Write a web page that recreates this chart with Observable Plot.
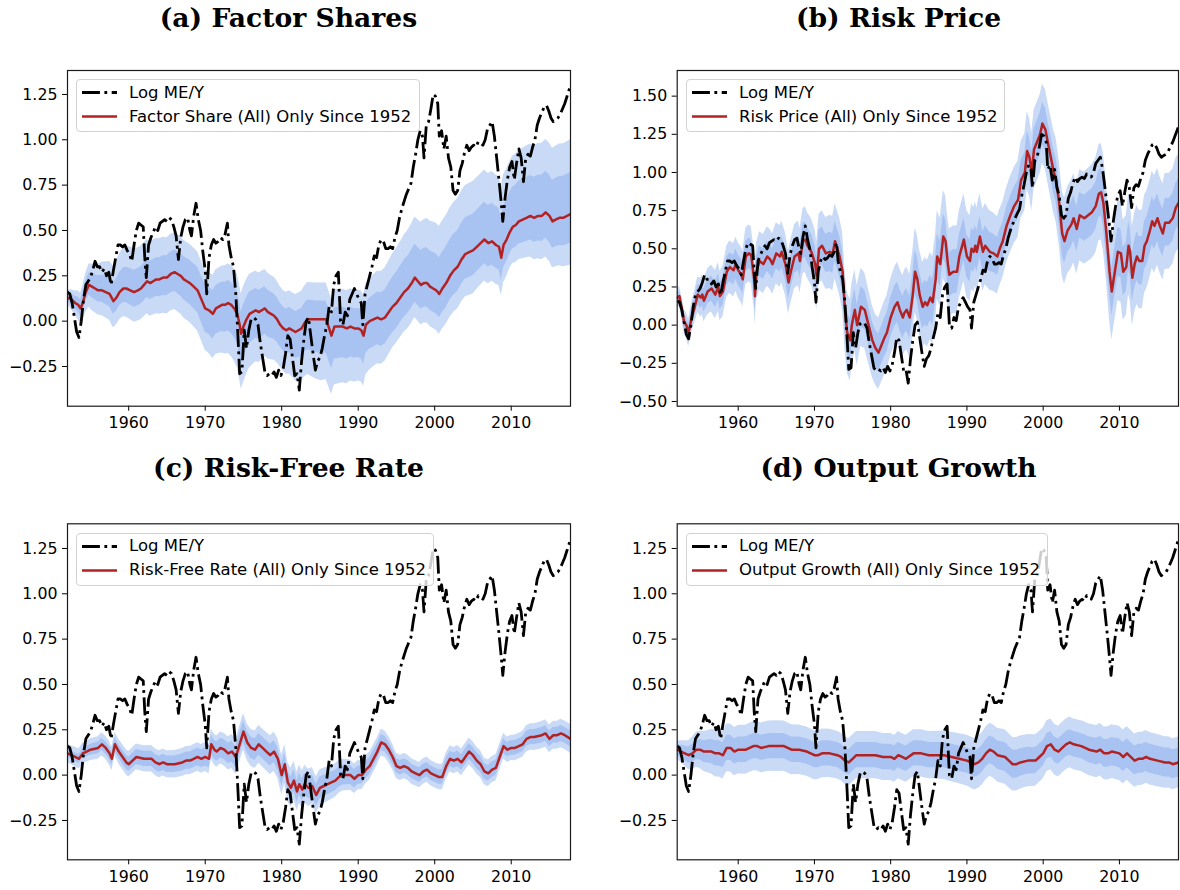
<!DOCTYPE html>
<html><head><meta charset="utf-8">
<script src="https://cdn.jsdelivr.net/npm/d3@7"></script>
<script src="https://cdn.jsdelivr.net/npm/@observablehq/plot@0.6"></script>
<style>
body{margin:0;background:#fff;}
#fig{position:relative;width:1180px;height:890px;overflow:hidden;font-family:"DejaVu Sans";background:#fff;}
.title{position:absolute;font-family:"DejaVu Serif";font-weight:bold;font-size:26.6px;white-space:nowrap;transform:translate(-50%,-50%);color:#000;}
.panel{position:absolute;}
.legend{position:absolute;background:rgba(255,255,255,0.8);border:1px solid #d2d2d2;border-radius:4px;box-sizing:border-box;height:53px;}
.legend .lab{position:absolute;left:52px;font-size:16.5px;line-height:20px;white-space:nowrap;color:#000;}
.legend svg{position:absolute;left:5px;top:0;}
</style></head>
<body><div id="fig"></div>
<script>
// ---------- data ----------
const xTicks = [1960, 1970, 1980, 1990, 2000, 2010];
const yTicksMain = [-0.25, 0, 0.25, 0.5, 0.75, 1.0, 1.25];
const yTicksRisk = [-0.5, -0.25, 0, 0.25, 0.5, 0.75, 1.0, 1.25, 1.5];
const titles = ["(a) Factor Shares", "(b) Risk Price", "(c) Risk-Free Rate", "(d) Output Growth"];
const legendLabels = ["Factor Share (All) Only Since 1952", "Risk Price (All) Only Since 1952",
  "Risk-Free Rate (All) Only Since 1952", "Output Growth (All) Only Since 1952"];
const blackLabel = "Log ME/Y";

// Log ME/Y  [year, value]
const logMEY = [[1952.0,0.16],[1952.3,0.15],[1952.6,0.10],[1952.9,0.02],[1953.2,-0.06],[1953.5,-0.09],[1953.8,0.0],[1954.1,0.12],[1954.4,0.2],[1954.7,0.22],[1955.0,0.24],[1955.3,0.28],[1955.6,0.33],[1955.9,0.3],[1956.2,0.3],[1956.5,0.27],[1956.8,0.29],[1957.1,0.25],[1957.4,0.27],[1957.7,0.2],[1958.0,0.28],[1958.3,0.35],[1958.6,0.42],[1958.9,0.42],[1959.2,0.41],[1959.5,0.42],[1959.8,0.39],[1960.1,0.37],[1960.4,0.33],[1960.7,0.42],[1961.0,0.5],[1961.3,0.54],[1961.6,0.53],[1961.9,0.52],[1962.1,0.35],[1962.3,0.24],[1962.6,0.42],[1962.9,0.46],[1963.2,0.49],[1963.5,0.52],[1963.8,0.5],[1964.1,0.54],[1964.4,0.55],[1964.7,0.56],[1965.0,0.55],[1965.3,0.57],[1965.6,0.56],[1965.9,0.52],[1966.2,0.47],[1966.5,0.34],[1966.8,0.46],[1967.1,0.52],[1967.4,0.56],[1967.7,0.57],[1968.0,0.5],[1968.2,0.47],[1968.5,0.58],[1968.8,0.65],[1969.1,0.56],[1969.4,0.5],[1969.7,0.38],[1970.0,0.28],[1970.2,0.15],[1970.5,0.35],[1970.8,0.42],[1971.1,0.45],[1971.4,0.43],[1971.7,0.44],[1972.0,0.46],[1972.3,0.45],[1972.6,0.48],[1972.9,0.54],[1973.1,0.42],[1973.4,0.35],[1973.7,0.3],[1974.0,0.15],[1974.3,-0.1],[1974.5,-0.29],[1974.8,-0.28],[1975.1,-0.05],[1975.4,-0.15],[1975.7,-0.05],[1976.0,0.01],[1976.3,0.02],[1976.6,0.01],[1976.9,-0.02],[1977.2,-0.12],[1977.5,-0.2],[1977.8,-0.28],[1978.1,-0.3],[1978.4,-0.29],[1978.7,-0.3],[1979.0,-0.28],[1979.3,-0.31],[1979.6,-0.27],[1979.9,-0.3],[1980.2,-0.26],[1980.5,-0.18],[1980.8,-0.08],[1981.1,-0.1],[1981.4,-0.2],[1981.7,-0.3],[1982.0,-0.29],[1982.3,-0.38],[1982.6,-0.22],[1982.9,-0.1],[1983.2,0.0],[1983.5,0.02],[1983.8,-0.08],[1984.1,-0.18],[1984.4,-0.27],[1984.7,-0.22],[1985.0,-0.2],[1985.3,-0.15],[1985.6,-0.08],[1985.9,-0.02],[1986.2,0.08],[1986.5,0.05],[1986.8,0.2],[1987.1,0.25],[1987.4,0.27],[1987.7,0.0],[1988.0,-0.02],[1988.3,0.05],[1988.6,0.03],[1988.9,0.12],[1989.2,0.15],[1989.5,0.18],[1989.8,0.15],[1990.1,0.12],[1990.4,0.1],[1990.6,-0.02],[1990.9,0.15],[1991.2,0.2],[1991.5,0.25],[1991.8,0.3],[1992.1,0.36],[1992.4,0.35],[1992.7,0.42],[1993.0,0.45],[1993.3,0.44],[1993.6,0.4],[1993.9,0.4],[1994.2,0.41],[1994.5,0.4],[1994.8,0.46],[1995.1,0.5],[1995.4,0.57],[1995.7,0.62],[1996.0,0.66],[1996.3,0.7],[1996.6,0.73],[1996.9,0.76],[1997.2,0.85],[1997.5,0.92],[1997.8,1.0],[1998.1,1.05],[1998.4,1.02],[1998.6,0.9],[1998.9,1.08],[1999.2,1.1],[1999.5,1.17],[1999.8,1.25],[2000.1,1.24],[2000.4,1.2],[2000.6,1.02],[2000.9,1.05],[2001.2,0.95],[2001.5,1.02],[2001.8,0.9],[2002.1,0.85],[2002.4,0.72],[2002.7,0.7],[2003.0,0.72],[2003.3,0.83],[2003.6,0.87],[2003.9,0.93],[2004.2,0.97],[2004.5,0.94],[2004.8,0.96],[2005.1,0.97],[2005.4,0.96],[2005.7,0.99],[2006.0,0.98],[2006.3,0.97],[2006.6,1.0],[2006.9,1.06],[2007.2,1.08],[2007.5,1.1],[2007.8,1.02],[2008.1,0.9],[2008.4,0.78],[2008.7,0.65],[2008.9,0.55],[2009.2,0.68],[2009.5,0.78],[2009.8,0.85],[2010.1,0.88],[2010.4,0.78],[2010.7,0.87],[2011.0,0.95],[2011.3,0.9],[2011.6,0.77],[2011.9,0.9],[2012.2,0.92],[2012.5,0.91],[2012.8,0.96],[2013.1,1.0],[2013.4,1.08],[2013.7,1.12],[2014.0,1.15],[2014.3,1.18],[2014.6,1.19],[2014.9,1.16],[2015.2,1.12],[2015.5,1.1],[2015.8,1.11],[2016.1,1.12],[2016.4,1.14],[2016.7,1.17],[2017.0,1.2],[2017.3,1.24],[2017.6,1.28],[2017.75,1.3]];

// (a) Factor Share (All) Only Since 1952
const factorShare = [[1952.0,0.13],[1952.5,0.12],[1953.0,0.1],[1953.4,0.09],[1953.7,0.07],[1954.0,0.1],[1954.3,0.15],[1954.8,0.2],[1955.2,0.19],[1955.6,0.18],[1956.0,0.17],[1956.5,0.17],[1957.0,0.16],[1957.5,0.15],[1958.0,0.11],[1958.4,0.13],[1958.8,0.16],[1959.3,0.18],[1959.7,0.18],[1960.2,0.17],[1960.7,0.16],[1961.2,0.17],[1961.6,0.18],[1962.0,0.2],[1962.4,0.22],[1962.8,0.21],[1963.2,0.22],[1963.6,0.23],[1964.0,0.23],[1964.5,0.24],[1965.0,0.24],[1965.5,0.26],[1966.0,0.27],[1966.4,0.26],[1966.8,0.25],[1967.2,0.23],[1967.6,0.22],[1968.0,0.21],[1968.5,0.19],[1969.0,0.17],[1969.5,0.12],[1970.0,0.07],[1970.5,0.06],[1971.0,0.04],[1971.4,0.07],[1971.8,0.08],[1972.2,0.09],[1972.6,0.09],[1973.0,0.1],[1973.4,0.09],[1973.8,0.07],[1974.2,0.04],[1974.5,-0.02],[1974.7,-0.07],[1975.0,-0.03],[1975.4,0.01],[1975.8,0.04],[1976.2,0.05],[1976.6,0.06],[1977.0,0.05],[1977.4,0.06],[1977.8,0.07],[1978.2,0.05],[1978.6,0.04],[1979.0,0.03],[1979.4,0.01],[1979.8,-0.02],[1980.2,-0.04],[1980.6,-0.05],[1981.0,-0.04],[1981.4,-0.05],[1981.8,-0.06],[1982.2,-0.05],[1982.6,-0.04],[1983.0,-0.01],[1983.4,0.01],[1984.0,0.01],[1984.6,0.01],[1985.2,0.01],[1985.8,0.01],[1986.2,-0.04],[1986.5,-0.08],[1986.9,-0.03],[1987.5,-0.03],[1988.0,-0.03],[1988.5,-0.04],[1989.0,-0.03],[1989.5,-0.04],[1990.0,-0.04],[1990.4,-0.05],[1990.7,-0.08],[1991.0,-0.02],[1991.5,0.0],[1992.0,0.01],[1992.5,0.02],[1993.0,0.01],[1993.5,0.02],[1994.0,0.05],[1994.5,0.08],[1995.0,0.1],[1995.5,0.13],[1996.0,0.16],[1996.5,0.18],[1997.0,0.21],[1997.4,0.24],[1997.8,0.22],[1998.2,0.2],[1998.6,0.21],[1999.0,0.21],[1999.4,0.19],[1999.8,0.18],[2000.2,0.17],[2000.6,0.15],[2001.0,0.18],[2001.5,0.21],[2002.0,0.25],[2002.5,0.28],[2003.0,0.3],[2003.5,0.34],[2004.0,0.37],[2004.5,0.38],[2005.0,0.39],[2005.5,0.41],[2006.0,0.43],[2006.5,0.45],[2007.0,0.43],[2007.5,0.44],[2008.0,0.42],[2008.4,0.41],[2008.7,0.35],[2009.0,0.42],[2009.4,0.45],[2009.8,0.49],[2010.2,0.52],[2010.6,0.53],[2011.0,0.55],[2011.5,0.56],[2012.0,0.57],[2012.5,0.58],[2013.0,0.57],[2013.5,0.58],[2014.0,0.58],[2014.5,0.6],[2015.0,0.58],[2015.4,0.55],[2015.8,0.56],[2016.3,0.57],[2016.8,0.57],[2017.3,0.58],[2017.75,0.59]];
// band half-widths read at knots: [year, innerDown, innerUp, outerDown, outerUp]
const factorShareBand = [[1952,0.02,0.02,0.04,0.04],[1955,0.06,0.07,0.13,0.12],[1960,0.08,0.12,0.16,0.24],[1965,0.1,0.12,0.2,0.22],[1970,0.13,0.13,0.23,0.21],[1975,0.17,0.12,0.31,0.22],[1980,0.12,0.12,0.23,0.21],[1985,0.19,0.1,0.34,0.2],[1990,0.16,0.11,0.29,0.21],[1995,0.14,0.17,0.22,0.3],[2000,0.13,0.2,0.22,0.37],[2005,0.14,0.2,0.24,0.38],[2010,0.12,0.22,0.2,0.39],[2017.75,0.16,0.23,0.28,0.41]];

// (b) Risk Price (All) Only Since 1952
const riskPrice = [[1952.0,0.18],[1952.3,0.19],[1952.65,0.1],[1952.9,0.02],[1953.2,0.0],[1953.5,-0.05],[1953.9,0.05],[1954.3,0.12],[1954.7,0.2],[1955.1,0.18],[1955.3,0.2],[1955.5,0.16],[1956.0,0.22],[1956.5,0.24],[1957.0,0.2],[1957.4,0.25],[1957.6,0.19],[1958.0,0.22],[1958.5,0.35],[1958.9,0.38],[1959.4,0.36],[1959.7,0.4],[1960.0,0.36],[1960.4,0.33],[1960.6,0.3],[1961.0,0.45],[1961.4,0.47],[1961.7,0.46],[1962.1,0.3],[1962.2,0.19],[1962.4,0.35],[1962.8,0.42],[1963.3,0.4],[1963.8,0.45],[1964.2,0.43],[1964.5,0.4],[1965.0,0.47],[1965.5,0.45],[1965.7,0.48],[1966.2,0.4],[1966.6,0.28],[1966.9,0.35],[1967.4,0.45],[1967.9,0.47],[1968.1,0.42],[1968.5,0.55],[1968.8,0.56],[1969.1,0.52],[1969.6,0.48],[1970.1,0.4],[1970.3,0.32],[1970.6,0.5],[1971.0,0.52],[1971.5,0.47],[1972.0,0.48],[1972.4,0.47],[1972.7,0.55],[1973.0,0.5],[1973.3,0.45],[1973.7,0.35],[1974.0,0.1],[1974.3,-0.05],[1974.7,-0.1],[1974.9,0.0],[1975.3,0.1],[1975.6,0.0],[1976.1,0.12],[1976.6,0.1],[1977.1,0.0],[1977.6,-0.1],[1978.0,-0.15],[1978.4,-0.18],[1978.8,-0.13],[1979.2,-0.08],[1979.5,-0.05],[1980.0,0.05],[1980.5,0.12],[1980.9,0.15],[1981.2,0.1],[1981.6,0.05],[1981.8,0.08],[1982.1,0.1],[1982.5,0.05],[1982.9,0.2],[1983.2,0.35],[1983.5,0.3],[1983.8,0.2],[1984.2,0.12],[1984.5,0.15],[1984.8,0.13],[1985.2,0.18],[1985.5,0.15],[1985.9,0.3],[1986.1,0.45],[1986.5,0.4],[1986.9,0.58],[1987.2,0.55],[1987.5,0.4],[1987.7,0.33],[1988.2,0.35],[1988.7,0.35],[1989.0,0.45],[1989.6,0.56],[1990.0,0.45],[1990.4,0.42],[1990.6,0.5],[1990.9,0.48],[1991.1,0.52],[1991.3,0.48],[1991.7,0.58],[1992.1,0.48],[1992.4,0.52],[1992.7,0.5],[1993.0,0.48],[1993.5,0.47],[1994.0,0.45],[1994.3,0.5],[1994.7,0.55],[1995.2,0.65],[1995.7,0.72],[1996.2,0.78],[1996.7,0.82],[1997.1,0.95],[1997.6,1.0],[1997.9,1.14],[1998.2,1.1],[1998.5,1.0],[1998.8,1.15],[1999.2,1.2],[1999.6,1.25],[1999.9,1.32],[2000.3,1.28],[2000.6,1.2],[2001.0,1.1],[2001.4,1.0],[2001.7,0.95],[2002.1,0.8],[2002.5,0.6],[2002.8,0.55],[2003.2,0.62],[2003.7,0.66],[2004.0,0.7],[2004.4,0.63],[2004.8,0.72],[2005.4,0.7],[2005.9,0.72],[2006.4,0.74],[2006.9,0.78],[2007.3,0.86],[2007.6,0.87],[2007.9,0.8],[2008.3,0.6],[2008.7,0.35],[2009.0,0.22],[2009.4,0.35],[2009.8,0.48],[2010.2,0.47],[2010.5,0.35],[2010.9,0.38],[2011.2,0.52],[2011.4,0.48],[2011.7,0.31],[2012.0,0.4],[2012.3,0.45],[2012.6,0.42],[2013.0,0.42],[2013.3,0.52],[2013.6,0.55],[2014.0,0.62],[2014.3,0.68],[2014.6,0.65],[2015.0,0.7],[2015.3,0.65],[2015.7,0.6],[2016.0,0.67],[2016.5,0.67],[2017.0,0.7],[2017.4,0.77],[2017.75,0.8]];
const riskPriceBand = [[1952,0.03,0.03,0.06,0.06],[1954,0.06,0.06,0.1,0.1],[1956,0.08,0.08,0.15,0.15],[1960,0.1,0.1,0.18,0.18],[1965,0.1,0.1,0.2,0.2],[1970,0.12,0.12,0.22,0.22],[1975,0.14,0.14,0.27,0.27],[1978,0.12,0.12,0.24,0.22],[1982,0.14,0.14,0.26,0.28],[1986,0.15,0.15,0.28,0.3],[1990,0.14,0.14,0.27,0.3],[1995,0.12,0.12,0.24,0.25],[2000,0.14,0.14,0.26,0.26],[2005,0.15,0.15,0.3,0.3],[2010,0.16,0.16,0.32,0.34],[2017.75,0.15,0.16,0.3,0.32]];

// (c) Risk-Free Rate (All) Only Since 1952
const riskFree = [[1952.0,0.12],[1952.5,0.11],[1953.0,0.1],[1953.5,0.09],[1954.0,0.12],[1954.5,0.13],[1955.0,0.14],[1956.0,0.15],[1956.5,0.17],[1957.0,0.15],[1957.5,0.12],[1957.8,0.09],[1958.2,0.17],[1958.7,0.13],[1959.2,0.1],[1959.7,0.07],[1960.0,0.06],[1960.5,0.08],[1961.0,0.1],[1962.0,0.09],[1963.0,0.09],[1963.5,0.07],[1964.0,0.06],[1964.5,0.07],[1965.0,0.06],[1966.0,0.06],[1967.0,0.07],[1967.5,0.08],[1968.0,0.08],[1968.5,0.09],[1969.0,0.1],[1969.5,0.09],[1970.0,0.1],[1970.5,0.09],[1970.8,0.17],[1971.2,0.14],[1971.5,0.13],[1972.0,0.15],[1972.5,0.14],[1973.0,0.12],[1973.5,0.13],[1974.0,0.1],[1974.5,0.17],[1975.0,0.24],[1975.5,0.18],[1976.0,0.15],[1976.5,0.14],[1977.0,0.17],[1977.5,0.15],[1978.0,0.13],[1978.5,0.11],[1979.0,0.13],[1979.5,0.09],[1980.0,0.0],[1980.4,0.06],[1980.8,-0.04],[1981.2,-0.07],[1981.6,-0.03],[1982.0,-0.09],[1982.3,-0.05],[1982.7,-0.08],[1983.0,-0.05],[1983.5,-0.07],[1984.0,-0.06],[1984.5,-0.11],[1985.0,-0.07],[1985.5,-0.06],[1986.0,-0.05],[1986.5,-0.04],[1987.0,-0.03],[1987.5,-0.01],[1988.0,0.0],[1989.0,0.0],[1989.5,-0.02],[1990.0,0.0],[1990.5,0.0],[1991.0,0.03],[1991.5,0.05],[1992.0,0.09],[1992.5,0.13],[1993.0,0.18],[1993.5,0.17],[1994.0,0.14],[1994.5,0.1],[1995.0,0.05],[1995.5,0.04],[1996.0,0.05],[1996.5,0.04],[1997.0,0.02],[1997.5,0.01],[1998.0,0.0],[1998.5,0.02],[1999.0,0.03],[1999.5,0.01],[2000.0,0.0],[2000.5,-0.01],[2001.0,-0.01],[2001.5,0.05],[2002.0,0.09],[2002.5,0.08],[2003.0,0.09],[2003.5,0.07],[2004.0,0.1],[2004.5,0.13],[2005.0,0.11],[2005.5,0.08],[2006.0,0.06],[2006.5,0.02],[2007.0,0.01],[2007.5,0.03],[2008.0,0.04],[2008.5,0.1],[2009.0,0.16],[2009.5,0.14],[2010.0,0.15],[2010.5,0.15],[2011.0,0.16],[2011.5,0.17],[2012.0,0.2],[2012.5,0.21],[2013.0,0.21],[2014.0,0.22],[2014.5,0.23],[2015.0,0.2],[2015.5,0.22],[2016.0,0.22],[2016.5,0.23],[2017.0,0.22],[2017.75,0.2]];
const riskFreeBand = [[1952,0.02,0.02,0.05,0.05],[1955,0.03,0.03,0.06,0.06],[1960,0.04,0.04,0.07,0.07],[1970,0.05,0.05,0.08,0.08],[1975,0.06,0.06,0.1,0.1],[1980,0.06,0.06,0.11,0.11],[1985,0.06,0.06,0.1,0.1],[1990,0.05,0.05,0.08,0.08],[1995,0.04,0.04,0.07,0.07],[2000,0.04,0.04,0.07,0.07],[2005,0.045,0.045,0.075,0.075],[2010,0.04,0.04,0.07,0.07],[2017.75,0.045,0.045,0.08,0.08]];

// (d) Output Growth (All) Only Since 1952
const outputGrowth = [[1952.0,0.14],[1952.5,0.13],[1953.0,0.12],[1953.5,0.11],[1954.0,0.12],[1954.5,0.14],[1955.0,0.14],[1955.5,0.13],[1956.0,0.13],[1956.5,0.13],[1957.0,0.12],[1957.5,0.12],[1958.0,0.11],[1958.5,0.15],[1959.0,0.15],[1959.5,0.13],[1960.0,0.14],[1960.5,0.14],[1961.0,0.14],[1961.5,0.15],[1962.0,0.16],[1962.5,0.16],[1963.0,0.15],[1964.0,0.16],[1965.0,0.16],[1966.0,0.16],[1967.0,0.14],[1968.0,0.14],[1969.0,0.13],[1970.0,0.11],[1970.5,0.11],[1971.0,0.12],[1972.0,0.12],[1973.0,0.11],[1973.5,0.1],[1974.0,0.08],[1974.5,0.07],[1975.0,0.09],[1975.5,0.11],[1976.0,0.11],[1977.0,0.11],[1978.0,0.11],[1979.0,0.1],[1980.0,0.1],[1980.5,0.09],[1981.0,0.11],[1981.5,0.1],[1982.0,0.09],[1983.0,0.12],[1984.0,0.12],[1985.0,0.11],[1986.0,0.11],[1987.0,0.11],[1988.0,0.1],[1989.0,0.09],[1990.0,0.08],[1990.5,0.07],[1991.0,0.06],[1991.5,0.07],[1992.0,0.09],[1992.5,0.12],[1993.0,0.14],[1993.5,0.13],[1994.0,0.11],[1995.0,0.1],[1995.5,0.08],[1996.0,0.06],[1996.5,0.06],[1997.0,0.07],[1998.0,0.08],[1999.0,0.08],[1999.5,0.1],[2000.0,0.12],[2000.5,0.16],[2001.0,0.17],[2001.5,0.14],[2002.0,0.13],[2002.5,0.15],[2003.0,0.17],[2003.5,0.18],[2004.0,0.17],[2005.0,0.16],[2005.5,0.15],[2006.0,0.14],[2007.0,0.13],[2007.5,0.14],[2008.0,0.12],[2008.5,0.12],[2009.0,0.13],[2010.0,0.12],[2010.5,0.1],[2011.0,0.12],[2012.0,0.08],[2012.5,0.09],[2013.0,0.09],[2013.5,0.1],[2014.0,0.09],[2015.0,0.08],[2016.0,0.07],[2016.5,0.07],[2017.0,0.06],[2017.75,0.07]];
const outputGrowthBand = [[1952,0.03,0.03,0.05,0.05],[1954,0.05,0.05,0.09,0.09],[1957,0.07,0.07,0.13,0.13],[1965,0.07,0.07,0.14,0.14],[1975,0.07,0.07,0.13,0.13],[1985,0.07,0.07,0.13,0.13],[1990,0.07,0.07,0.14,0.14],[1995,0.08,0.08,0.15,0.15],[2000,0.07,0.07,0.14,0.14],[2005,0.07,0.07,0.14,0.14],[2010,0.08,0.08,0.15,0.15],[2017.75,0.08,0.08,0.14,0.14]];

// ---------- styling ----------
const OUTER = "#c9daf6", INNER = "#a8c3f2", RED = "#b22222";
const DASH = "17.9,4.5,2.8,4.5";
const xDomain = [1952, 2017.75];
const FS = 15.8;

function bandRows(series, knots) {
  const yrs = knots.map(k => k[0]);
  const sc = i => d3.scaleLinear().domain(yrs).range(knots.map(k => k[i])).clamp(true);
  const inDn = sc(1), inUp = sc(2), outDn = sc(3), outUp = sc(4);
  return series.map(([t, v]) => ({t, lo1: v - inDn(t), hi1: v + inUp(t), lo2: v - outDn(t), hi2: v + outUp(t)}));
}

const fig = document.getElementById("fig");

function panel(o) {
  const rows = bandRows(o.series, o.band);
  const svg = Plot.plot({
    width: o.width, height: o.height,
    marginTop: o.mt, marginBottom: o.mb, marginLeft: o.ml, marginRight: o.mr,
    style: {fontFamily: "DejaVu Sans", fontSize: FS + "px", color: "#000", background: "transparent", overflow: "visible"},
    x: {domain: xDomain},
    y: {domain: o.yDomain},
    marks: [
      Plot.areaY(rows, {x: "t", y1: "lo2", y2: "hi2", fill: OUTER, clip: true}),
      Plot.areaY(rows, {x: "t", y1: "lo1", y2: "hi1", fill: INNER, clip: true}),
      Plot.line(o.series, {x: d => d[0], y: d => d[1], stroke: RED, strokeWidth: 2.5, clip: true}),
      Plot.line(logMEY, {x: d => d[0], y: d => d[1], stroke: "#000", strokeWidth: 2.8, strokeDasharray: DASH, strokeLinecap: "butt", clip: true}),
      Plot.axisX({ticks: xTicks, tickFormat: d => String(d), tickSize: 5, tickPadding: 6, label: null, stroke: "#000", fontSize: FS}),
      Plot.axisY({ticks: o.yTicks, tickFormat: d3.format(".2f"), tickSize: 5, tickPadding: 5, label: null, stroke: "#000", fontSize: FS}),
      Plot.frame({stroke: "#1a1a1a", strokeWidth: 1.2})
    ]
  });
  const wrap = document.createElement("div");
  wrap.className = "panel";
  wrap.style.left = o.left + "px"; wrap.style.top = o.top + "px";
  wrap.appendChild(svg);
  fig.appendChild(wrap);

  const t = document.createElement("div");
  t.className = "title"; t.textContent = o.title;
  t.style.left = o.tx + "px"; t.style.top = o.ty + "px";
  fig.appendChild(t);

  const lg = document.createElement("div");
  lg.className = "legend";
  lg.style.left = o.lx + "px"; lg.style.top = o.ly + "px"; lg.style.width = o.lw + "px";
  lg.innerHTML =
    `<svg width="40" height="53"><line x1="0" x2="35" y1="12.5" y2="12.5" stroke="#000" stroke-width="2.8" stroke-dasharray="${DASH}"/>` +
    `<line x1="0" x2="35" y1="36.5" y2="36.5" stroke="${RED}" stroke-width="2.5"/></svg>` +
    `<div class="lab" style="top:2.5px">${blackLabel}</div><div class="lab" style="top:26.5px">${o.label}</div>`;
  fig.appendChild(lg);
}

const topRow = {top: 40, height: 410, mt: 30, mb: 44.3};
const botRow = {top: 490, height: 400, mt: 33.3, mb: 30.7};
const leftCol = {left: 0, width: 590, ml: 67, mr: 20, tx: 288.5, lx: 76};
const rightCol = {left: 610, width: 570, ml: 66.7, mr: 2, tx: 898.5, lx: 686};

panel({...topRow, ...leftCol, yDomain: [-0.469, 1.382], yTicks: yTicksMain, series: factorShare, band: factorShareBand, title: titles[0], ty: 17, label: legendLabels[0], ly: 79, lw: 344});
panel({...topRow, ...rightCol, yDomain: [-0.531, 1.668], yTicks: yTicksRisk, series: riskPrice, band: riskPriceBand, title: titles[1], ty: 17, label: legendLabels[1], ly: 79, lw: 319});
panel({...botRow, ...leftCol, yDomain: [-0.467, 1.386], yTicks: yTicksMain, series: riskFree, band: riskFreeBand, title: titles[2], ty: 467, label: legendLabels[2], ly: 532.7, lw: 358});
panel({...botRow, ...rightCol, yDomain: [-0.467, 1.386], yTicks: yTicksMain, series: outputGrowth, band: outputGrowthBand, title: titles[3], ty: 467, label: legendLabels[3], ly: 532.7, lw: 362});
</script></body></html>
